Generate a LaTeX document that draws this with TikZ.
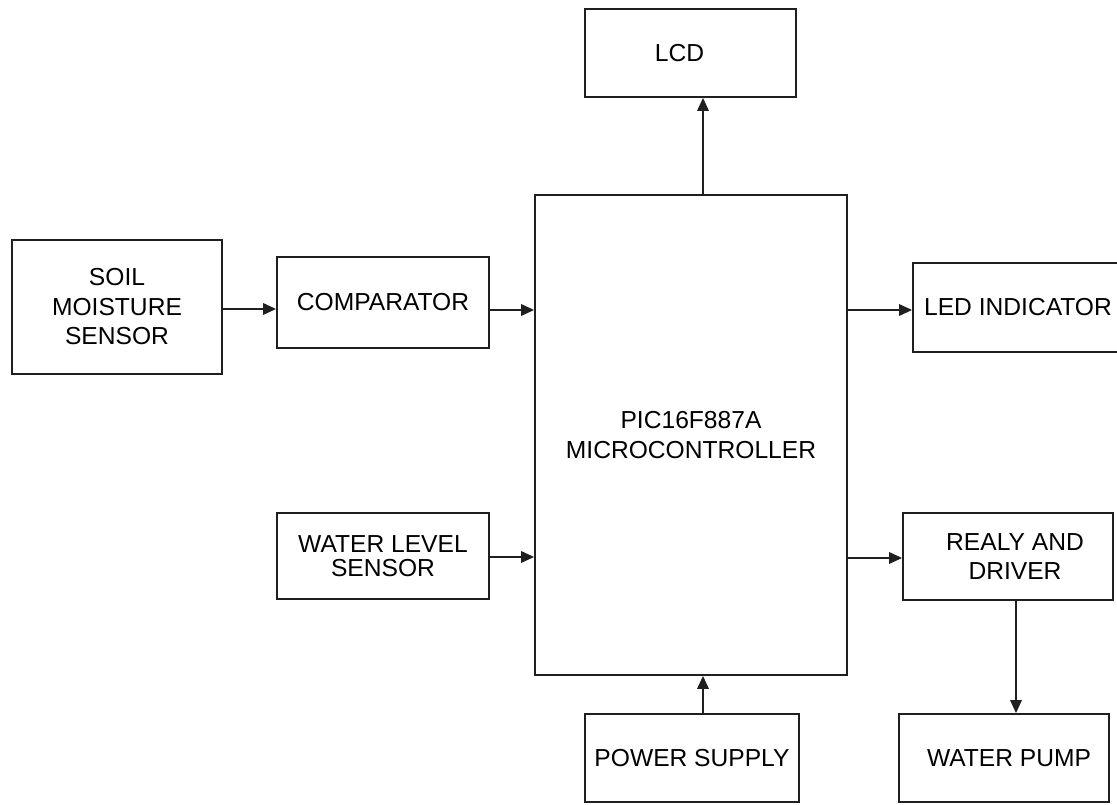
\documentclass[tikz,border=0pt]{standalone}
\usepackage{fontspec}
\setmainfont{Liberation Sans}
\usetikzlibrary{arrows.meta}
\begin{document}
\begin{tikzpicture}[x=1pt,y=1pt,
  box/.style={draw=black!88, line width=1.8pt, inner sep=0pt, align=center,
    font=\fontsize{24.6}{29.5}\selectfont, text=black},
  arr/.style={line width=1.8pt, draw=black!88, -{Triangle[length=13pt,width=11.5pt]}}]
\useasboundingbox (0,0) rectangle (1117,804);
\fill[white] (0,0) rectangle (1117,804);
% nodes
\node[box, minimum width=211, minimum height=88] (lcd) at (690.5,751) {LCD\hspace*{22pt}};
\node[box, minimum width=312, minimum height=480] (mc) at (691,369) {PIC16F887A\\MICROCONTROLLER};
\node[box, minimum width=210, minimum height=134] (soil) at (117,497) {SOIL\\MOISTURE\\SENSOR};
\node[box, minimum width=212, minimum height=91] (comp) at (383,501.5) {COMPARATOR};
\node[box, minimum width=214, minimum height=89] (led) at (1020,496.5) {LED INDICATOR\hspace*{4pt}};
\node[box, minimum width=212, minimum height=86, font=\fontsize{24.6}{24}\selectfont] (wl) at (383,248) {WATER LEVEL\\SENSOR};
\node[box, minimum width=210, minimum height=87] (realy) at (1008,247.5) {\hspace*{14pt}REALY AND\\\hspace*{14pt}DRIVER};
\node[box, minimum width=214, minimum height=88] (power) at (692,46) {POWER SUPPLY};
\node[box, minimum width=210, minimum height=88] (pump) at (1004,46) {\hspace*{10pt}WATER PUMP};
% connectors
\draw[arr] ([yshift=-2pt]soil.east) -- ([yshift=-2pt]soil.east -| comp.west);
\draw[arr] ([yshift=-7.5pt]comp.east) -- ([yshift=-7.5pt]comp.east -| mc.west);
\draw[arr] ([yshift=-1pt]wl.east) -- ([yshift=-1pt]wl.east -| mc.west);
\draw[arr] ([yshift=-2.5pt]led.west -| mc.east) -- ([yshift=-2.5pt]led.west);
\draw[arr] ([yshift=-1.5pt]realy.west -| mc.east) -- ([yshift=-1.5pt]realy.west);
\draw[arr] ([xshift=12.5pt]lcd.south |- mc.north) -- ([xshift=12.5pt]lcd.south);
\draw[arr] ([xshift=11pt]power.north) -- ([xshift=11pt]power.north |- mc.south);
\draw[arr] ([xshift=8pt]realy.south) -- ([xshift=8pt]realy.south |- pump.north);
\end{tikzpicture}
\end{document}
